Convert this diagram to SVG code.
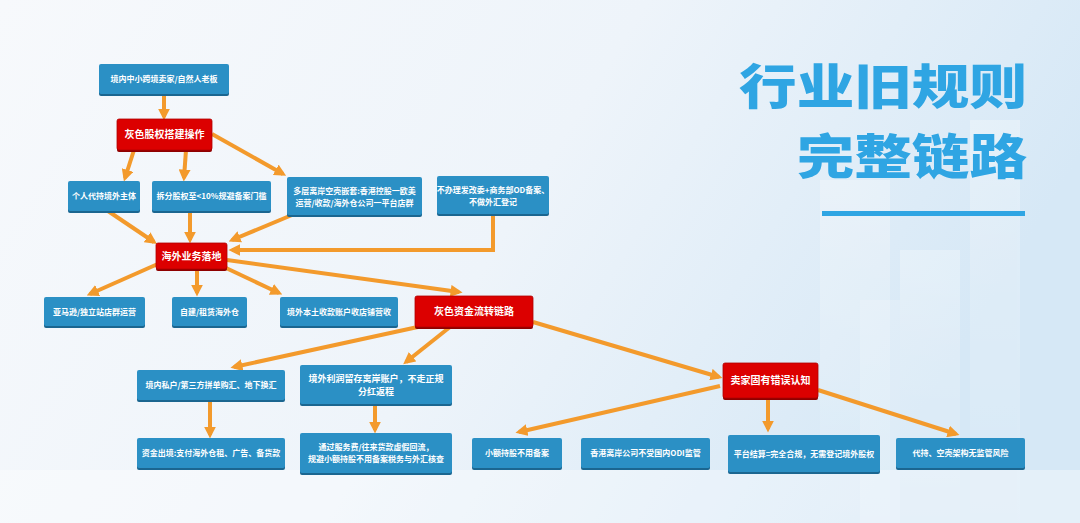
<svg xmlns="http://www.w3.org/2000/svg" width="1080" height="523" viewBox="0 0 1080 523">
<defs>
<linearGradient id="bg" x1="0" y1="0" x2="1" y2="0.3">
<stop offset="0" stop-color="#f7f9fc"/>
<stop offset="0.55" stop-color="#eef4fa"/>
<stop offset="1" stop-color="#d6e8f6"/>
</linearGradient>
<linearGradient id="bld" x1="0" y1="0" x2="0" y2="1">
<stop offset="0" stop-color="#ffffff" stop-opacity="0.5"/>
<stop offset="1" stop-color="#ffffff" stop-opacity="0.1"/>
</linearGradient>
<marker id="ah" viewBox="0 0 10 10" refX="7" refY="5" markerWidth="12" markerHeight="12" markerUnits="userSpaceOnUse" orient="auto">
<path d="M0,0 L10,5 L0,10 Z" fill="#f39a2c"/>
</marker>
<style>
.b{fill:#2b90c5;}
.bs{fill:#1b6690;}
.r{fill:#dc0000;stroke:#b00000;stroke-width:0.8;}
.rs{fill:#8e0000;}
.t{font-family:"Noto Sans CJK SC","Noto Sans",sans-serif;font-size:8px;font-weight:700;fill:#ffffff;text-anchor:middle;}
.t9{font-size:9px;}
.tr{font-family:"Noto Sans CJK SC","Noto Sans",sans-serif;font-size:10px;font-weight:700;fill:#ffffff;text-anchor:middle;}
.a{fill:none;stroke:#f39a2c;stroke-width:4;marker-end:url(#ah);}
.ttl{font-family:"Noto Sans CJK SC",sans-serif;font-size:48px;font-weight:900;fill:#2fa5e3;text-anchor:end;}
</style>
</defs>
<rect width="1080" height="523" fill="url(#bg)"/>
<g opacity="0.6">
<rect x="820" y="180" width="70" height="343" fill="url(#bld)"/>
<rect x="900" y="250" width="60" height="273" fill="url(#bld)"/>
<rect x="970" y="120" width="50" height="403" fill="url(#bld)"/>
<rect x="860" y="300" width="40" height="223" fill="#ffffff" opacity="0.3"/>
</g>
<rect x="0" y="470" width="1080" height="53" fill="#ffffff" opacity="0.35"/>

<g id="title">
<text class="ttl" transform="translate(1027,0) scale(1.2,1)"><tspan x="0" y="104">行业旧规则</tspan><tspan x="0" y="174">完整链路</tspan></text>
<rect x="822" y="211" width="203" height="5" fill="#2fa5e3"/>
</g>

<g id="connectors">
<path class="a" d="M164,94 L164,117"/>
<path class="a" d="M134,150 L125,178"/>
<path class="a" d="M186,150 L184,178"/>
<path class="a" d="M212,134 L283,174"/>
<path class="a" d="M108,211 L154,242"/>
<path class="a" d="M190,211 L190,240"/>
<path class="a" d="M292,215 L232,240"/>
<path class="a" d="M493,214 L493,250 L232,250"/>
<path class="a" d="M160,263 L90,294"/>
<path class="a" d="M197,269 L197,293"/>
<path class="a" d="M226,268 L279,293"/>
<path class="a" d="M227,260 L459,292"/>
<path class="a" d="M427,325 L234,367"/>
<path class="a" d="M450,327 L406,362"/>
<path class="a" d="M533,322 L719,377"/>
<path class="a" d="M210,400 L210,435"/>
<path class="a" d="M375,404 L375,430"/>
<path class="a" d="M720,386 L519,432"/>
<path class="a" d="M768,398 L768,429"/>
<path class="a" d="M818,390 L956,434"/>
</g>

<g id="n1"><rect class="bs" x="99" y="66" width="130" height="30" rx="2"/><rect class="b" x="99" y="64" width="130" height="30" rx="2"/><text class="t" x="164" y="82">境内中小跨境卖家/自然人老板</text></g>
<g id="n2"><rect class="rs" x="117" y="121" width="95" height="31" rx="2"/><rect class="r" x="117" y="119" width="95" height="31" rx="2"/><text class="tr" x="164.5" y="138">灰色股权搭建操作</text></g>
<g id="n3"><rect class="bs" x="68" y="183" width="72" height="30" rx="2"/><rect class="b" x="68" y="181" width="72" height="30" rx="2"/><text class="t" x="104" y="199">个人代持境外主体</text></g>
<g id="n4"><rect class="bs" x="152" y="183" width="119" height="30" rx="2"/><rect class="b" x="152" y="181" width="119" height="30" rx="2"/><text class="t" x="211.5" y="199">拆分股权至&lt;10%规避备案门槛</text></g>
<g id="n5"><rect class="bs" x="287" y="179" width="135" height="38" rx="2"/><rect class="b" x="287" y="177" width="135" height="38" rx="2"/><text class="t" x="354.5" y="194">多层离岸空壳嵌套:香港控股一欧美</text><text class="t" x="354.5" y="206">运营/收款/海外仓公司一平台店群</text></g>
<g id="n6"><rect class="bs" x="437" y="178" width="112" height="38" rx="2"/><rect class="b" x="437" y="176" width="112" height="38" rx="2"/><text class="t" x="493" y="193">不办理发改委+商务部OD备案、</text><text class="t" x="493" y="205">不做外汇登记</text></g>
<g id="n7"><rect class="rs" x="156" y="245" width="71" height="26" rx="2"/><rect class="r" x="156" y="243" width="71" height="26" rx="2"/><text class="tr" x="191.5" y="259.5">海外业务落地</text></g>
<g id="n8"><rect class="bs" x="44" y="299" width="101" height="29" rx="2"/><rect class="b" x="44" y="297" width="101" height="29" rx="2"/><text class="t" x="94.5" y="314.5">亚马逊/独立站店群运营</text></g>
<g id="n9"><rect class="bs" x="172" y="299" width="75" height="29" rx="2"/><rect class="b" x="172" y="297" width="75" height="29" rx="2"/><text class="t" x="209.5" y="314.5">自建/租赁海外仓</text></g>
<g id="n10"><rect class="bs" x="280" y="299" width="118" height="29" rx="2"/><rect class="b" x="280" y="297" width="118" height="29" rx="2"/><text class="t" x="339" y="314.5">境外本土收款账户收店铺营收</text></g>
<g id="n11"><rect class="rs" x="415" y="298" width="118" height="31" rx="2"/><rect class="r" x="415" y="296" width="118" height="31" rx="2"/><text class="tr" x="474" y="315">灰色资金流转链路</text></g>
<g id="n12"><rect class="bs" x="137" y="372" width="148" height="30" rx="2"/><rect class="b" x="137" y="370" width="148" height="30" rx="2"/><text class="t" x="211" y="388">境内私户/第三方拼单购汇、地下换汇</text></g>
<g id="n13"><rect class="bs" x="300" y="367" width="152" height="39" rx="2"/><rect class="b" x="300" y="365" width="152" height="39" rx="2"/><text class="t t9" x="376" y="382">境外利润留存离岸账户，不走正规</text><text class="t t9" x="376" y="395">分红返程</text></g>
<g id="n14"><rect class="bs" x="137" y="440" width="148" height="30" rx="2"/><rect class="b" x="137" y="438" width="148" height="30" rx="2"/><text class="t" x="211" y="456">资金出境:支付海外仓租、广告、备货款</text></g>
<g id="n15"><rect class="bs" x="300" y="435" width="152" height="40" rx="2"/><rect class="b" x="300" y="433" width="152" height="40" rx="2"/><text class="t" x="376" y="450">通过服务费/往来货款虚假回流，</text><text class="t" x="376" y="462">规避小额持股不用备案税务与外汇核查</text></g>
<g id="n16"><rect class="rs" x="723" y="365" width="95" height="35" rx="2"/><rect class="r" x="723" y="363" width="95" height="35" rx="2"/><text class="tr" x="770.5" y="384">卖家固有错误认知</text></g>
<g id="n17"><rect class="bs" x="472" y="440" width="90" height="30" rx="2"/><rect class="b" x="472" y="438" width="90" height="30" rx="2"/><text class="t" x="517" y="456">小额持股不用备案</text></g>
<g id="n18"><rect class="bs" x="581" y="440" width="129" height="30" rx="2"/><rect class="b" x="581" y="438" width="129" height="30" rx="2"/><text class="t" x="645.5" y="456">香港离岸公司不受国内ODI监管</text></g>
<g id="n19"><rect class="bs" x="728" y="437" width="152" height="37" rx="2"/><rect class="b" x="728" y="435" width="152" height="37" rx="2"/><text class="t" x="804" y="456.5">平台结算=完全合规，无需登记境外股权</text></g>
<g id="n20"><rect class="bs" x="896" y="440" width="129" height="30" rx="2"/><rect class="b" x="896" y="438" width="129" height="30" rx="2"/><text class="t" x="960.5" y="456">代持、空壳架构无监管风险</text></g>
</svg>
